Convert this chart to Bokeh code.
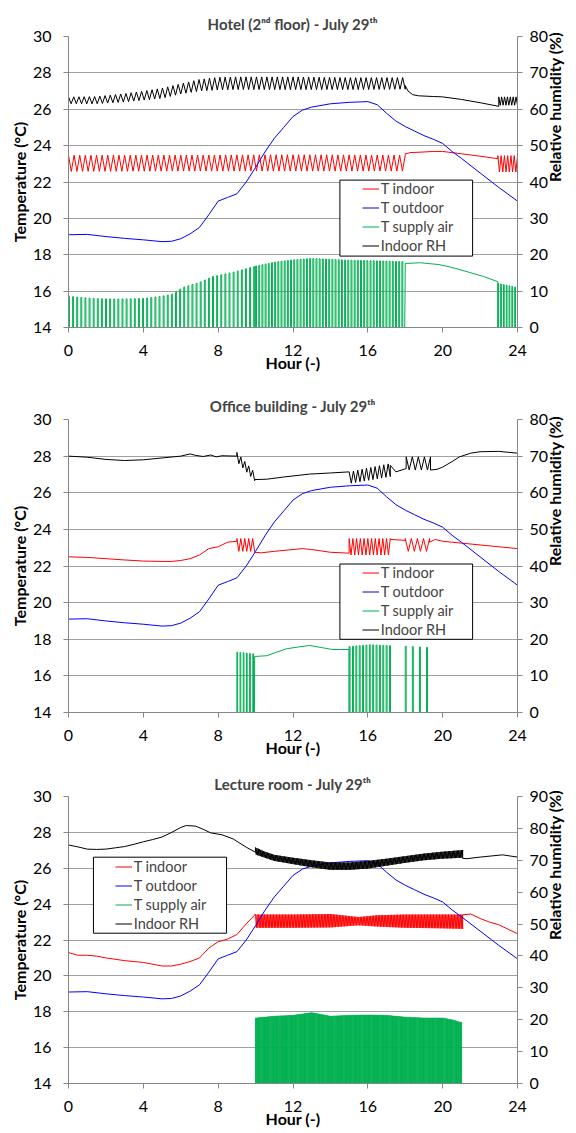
import math
import numpy as np
from bokeh.plotting import figure
from bokeh.models import Range1d, LinearAxis, FixedTicker, Legend, LegendItem, BoxAnnotation
from bokeh.layouts import column
from bokeh.embed import file_html
from bokeh.resources import INLINE

FONT = "Lato"
RED, BLUE, GREEN, BLACK = "#ff0000", "#0000ff", "#00b050", "#000000"
AXIS_GREY, GRID_GREY = "#868686", "#a0a0a0"

hour_ticks = [0, 4, 8, 12, 16, 20, 24]
temp_ticks = [14, 16, 18, 20, 22, 24, 26, 28, 30]
legend_labels = ["T indoor", "T outdoor", "T supply air", "Indoor RH"]
titles = ["Hotel (2\u207f\u1d48 floor) - July 29\u1d57\u02b0",
          "Office building - July 29\u1d57\u02b0",
          "Lecture room - July 29\u1d57\u02b0"]
rh_max = [80, 80, 90]
rh_label = "Relative humidity (%)"

# ---------------- T outdoor (same weather in every panel) ----------------
out_hours = [0, 1, 2, 3, 4, 5, 5.5, 6, 6.5, 7, 7.5, 8, 8.5, 9, 9.5, 10, 10.5, 11, 11.5, 12,
             12.5, 13, 14, 15, 16, 16.5, 17, 17.5, 18, 18.5, 19, 19.5, 20, 20.5, 21, 22, 23, 24]
out_temp = [19.1, 19.12, 19.0, 18.9, 18.82, 18.72, 18.74, 18.88, 19.15, 19.5, 20.2, 20.95, 21.15,
            21.35, 22.0, 22.8, 23.65, 24.4, 25.0, 25.6, 25.95, 26.12, 26.3, 26.38, 26.42, 26.25,
            25.78, 25.35, 25.05, 24.8, 24.55, 24.35, 24.12, 23.68, 23.3, 22.5, 21.7, 20.95]

# ---------------- Hotel ----------------
hotel_tin_knots = [0, 6, 12, 18]
hotel_tin_lo = [22.58, 22.6, 22.6, 22.6]
hotel_tin_hi = [23.47, 23.48, 23.5, 23.48]
hotel_tin_mid_hours = [18.0, 18.3, 19, 19.5, 20, 21, 22, 22.95]
hotel_tin_mid = [23.55, 23.62, 23.65, 23.68, 23.68, 23.55, 23.42, 23.28]
hotel_tin_end_lo = [22.55, 22.55]
hotel_tin_end_hi = [23.45, 23.45]

hotel_rh_knots = [0, 1.5, 3, 4, 5, 6, 7, 8, 9, 12, 15, 18]
hotel_rh_lo = [61.5, 61.5, 62.0, 62.5, 63.0, 64.2, 65.0, 65.3, 65.4, 65.4, 65.4, 65.5]
hotel_rh_hi = [63.4, 63.5, 64.3, 65.0, 65.8, 67.0, 68.2, 68.8, 68.9, 68.9, 68.7, 68.7]
hotel_rh_mid_hours = [18.0, 18.15, 18.4, 18.7, 19.5, 20, 21, 22, 23.0]
hotel_rh_mid = [66.5, 65.0, 64.0, 63.7, 63.5, 63.4, 62.7, 61.8, 60.8]
hotel_rh_end_lo = [61.1, 61.1]
hotel_rh_end_hi = [63.4, 63.4]

hotel_sup_knots = [0, 1, 2, 3, 4, 5, 5.6, 6.1, 7.0, 7.7, 8.8, 9.9, 11.0, 12, 13, 14, 15, 16, 17, 18]
hotel_sup_tops = [15.72, 15.62, 15.57, 15.57, 15.6, 15.72, 15.85, 16.2, 16.48, 16.8, 17.04, 17.35,
                  17.59, 17.72, 17.8, 17.75, 17.7, 17.68, 17.65, 17.62]
hotel_sup_mid_hours = [18.0, 18.8, 19.8, 20.5, 21.4, 22.2, 22.95]
hotel_sup_mid = [17.52, 17.56, 17.46, 17.3, 17.04, 16.8, 16.52]
hotel_sup_end_tops = [16.43, 16.2]

# ---------------- Office building ----------------
office_tin_a_hours = [0, 1, 2, 3, 4, 5, 5.5, 6, 6.5, 7, 7.5, 8, 8.5, 9.0]
office_tin_a = [22.5, 22.47, 22.4, 22.33, 22.27, 22.25, 22.25, 22.3, 22.4, 22.6, 22.95, 23.05, 23.3, 23.35]
office_tin_b_hours = [9.95, 10.3, 11, 12, 12.5, 13, 14, 15.0]
office_tin_b = [22.75, 22.72, 22.8, 22.9, 22.95, 22.9, 22.75, 22.7]
office_tin_c_hours = [17.2, 18.0]
office_tin_c = [23.45, 23.4]
office_tin_d_hours = [19.3, 19.6, 20, 21, 22, 23, 24]
office_tin_d = [23.3, 23.45, 23.35, 23.25, 23.15, 23.05, 22.95]
office_tin_cyc_lo = [22.8, 22.6, 22.8]
office_tin_cyc_hi = [23.5, 23.5, 23.5]

office_rh_a_hours = [0, 1, 2, 3, 4, 5, 6, 6.5, 6.8, 7.2, 7.6, 7.9, 8.2, 9.0]
office_rh_a = [70, 69.7, 69.1, 68.8, 69.0, 69.5, 70.0, 70.6, 70.2, 69.9, 70.3, 69.8, 70.1, 70.0]
office_rh_b_hours = [9.95, 10.6, 11.5, 12.9, 14, 15.0]
office_rh_b = [63.6, 63.7, 64.3, 65.1, 65.4, 65.7]
office_rh_c_hours = [17.2, 17.5, 18.05]
office_rh_c = [67.5, 65.7, 66.6]
office_rh_d_hours = [19.35, 19.7, 20, 20.5, 20.9, 21.5, 22, 23, 24]
office_rh_d = [66.2, 66.4, 67.0, 68.5, 69.8, 70.8, 71.2, 71.3, 70.8]
office_rh_cyc1_lo = [68.5, 63.3]
office_rh_cyc1_hi = [71.0, 65.5]
office_rh_cyc2_lo = [62.5, 64.4]
office_rh_cyc2_hi = [65.7, 68.0]
office_rh_cyc3_lo = [66.2, 66.2]
office_rh_cyc3_hi = [69.8, 69.8]

office_sup_tops1 = [17.3, 17.2]
office_sup_mid_hours = [9.95, 10.6, 11.0, 11.65, 12.3, 12.9, 13.5, 14.1, 15.0]
office_sup_mid = [17.06, 17.1, 17.25, 17.48, 17.58, 17.66, 17.55, 17.44, 17.44]
office_sup_tops2 = [17.6, 17.7, 17.65]
office_sup_tops3 = [17.62, 17.55]

# ---------------- Lecture room ----------------
lect_tin_a_hours = [0, 0.5, 1, 1.5, 2, 3, 4, 5, 5.5, 6, 6.5, 7, 7.5, 8, 8.5, 9, 9.5, 10.0]
lect_tin_a = [21.3, 21.15, 21.15, 21.1, 21.0, 20.85, 20.75, 20.55, 20.55, 20.65, 20.8, 21.0,
              21.55, 21.9, 22.05, 22.3, 22.9, 23.45]
lect_tin_knots = [10, 12, 14, 15.5, 16.5, 18, 20, 21.07]
lect_tin_lo = [22.68, 22.68, 22.7, 22.82, 22.75, 22.68, 22.65, 22.62]
lect_tin_hi = [23.42, 23.42, 23.45, 23.28, 23.38, 23.42, 23.42, 23.42]
lect_tin_b_hours = [21.07, 21.5, 22, 22.5, 23, 23.5, 24]
lect_tin_b = [23.4, 23.45, 23.2, 23.0, 22.85, 22.6, 22.35]

lect_rh_a_hours = [0, 0.5, 1, 1.5, 2, 2.5, 3, 3.5, 4, 4.5, 5, 5.5, 6, 6.3, 6.8, 7.2, 7.6, 8.2, 8.8, 9.5, 10.0]
lect_rh_a = [74.8, 74.2, 73.5, 73.4, 73.5, 73.9, 74.3, 75.0, 75.8, 76.5, 77.3, 78.7, 80.3, 80.9,
             80.7, 79.7, 78.6, 78.0, 76.7, 74.1, 72.5]
lect_rh_knots = [10.0, 10.5, 11, 12, 13, 14, 15, 16, 17, 18, 19, 20, 21.07]
lect_rh_lo = [71.8, 70.8, 69.8, 68.8, 67.8, 67.0, 67.0, 67.4, 68.3, 69.2, 70.0, 70.5, 70.8]
lect_rh_hi = [74.0, 72.7, 71.7, 70.8, 70.0, 69.3, 69.3, 69.8, 70.5, 71.3, 72.1, 72.7, 73.2]
lect_rh_b_hours = [21.07, 21.3, 22, 23.2, 24]
lect_rh_b = [70.6, 70.5, 71.0, 71.7, 71.0]

lect_sup_knots = [10, 11, 12, 13, 14, 15, 16, 17, 18, 19, 20, 20.5, 21]
lect_sup_tops = [17.65, 17.75, 17.8, 17.95, 17.75, 17.8, 17.82, 17.8, 17.7, 17.65, 17.65, 17.55, 17.4]

OFF = 0.0  # supply-air value when the unit is off (below the axis)


def zig(t0, t1, period, knots, lo, hi):
    n = max(2, int(round(2 * (t1 - t0) / period)))
    ts = np.linspace(t0, t1, n + 1)
    lo_v = np.interp(ts, knots, lo)
    hi_v = np.interp(ts, knots, hi)
    ys = np.where(np.arange(n + 1) % 2 == 0, hi_v, lo_v)
    return list(ts), list(ys)


def pulses(t0, t1, period, on, knots, tops):
    xs, ys = [], []
    for s in np.arange(t0, t1 - on * 0.5, period):
        e = s + on
        xs += [s, s, e, e]
        ys += [OFF, float(np.interp(s, knots, tops)), float(np.interp(e, knots, tops)), OFF]
    return xs, ys


def join(*parts):
    xs, ys = [], []
    for a, b in parts:
        xs += list(a)
        ys += list(b)
    return xs, ys


# ---- assemble series ----
hotel = dict(
    tin=join(zig(0, 18.0, 0.3, hotel_tin_knots, hotel_tin_lo, hotel_tin_hi),
             (hotel_tin_mid_hours, hotel_tin_mid),
             zig(22.95, 24, 0.17, [22.95, 24], hotel_tin_end_lo, hotel_tin_end_hi)),
    sup=join(pulses(0, 10, 0.22, 0.05, hotel_sup_knots, hotel_sup_tops),
             pulses(10, 18.0, 0.17, 0.05, hotel_sup_knots, hotel_sup_tops),
             (hotel_sup_mid_hours, hotel_sup_mid),
             pulses(22.95, 24, 0.15, 0.04, [22.95, 24], hotel_sup_end_tops)),
    rh=join(zig(0, 18.0, 0.28, hotel_rh_knots, hotel_rh_lo, hotel_rh_hi),
            (hotel_rh_mid_hours, hotel_rh_mid),
            zig(23.0, 24, 0.15, [23.0, 24], hotel_rh_end_lo, hotel_rh_end_hi)),
)

office = dict(
    tin=join((office_tin_a_hours, office_tin_a),
             zig(9.0, 9.95, 0.2, [9.0, 9.95], office_tin_cyc_lo[:1] * 2, office_tin_cyc_hi[:1] * 2),
             (office_tin_b_hours, office_tin_b),
             zig(15.0, 17.2, 0.2, [15.0, 17.2], office_tin_cyc_lo[1:2] * 2, office_tin_cyc_hi[1:2] * 2),
             (office_tin_c_hours, office_tin_c),
             zig(18.0, 19.3, 0.33, [18.0, 19.3], office_tin_cyc_lo[2:] * 2, office_tin_cyc_hi[2:] * 2),
             (office_tin_d_hours, office_tin_d)),
    sup=join(pulses(9.0, 9.95, 0.17, 0.04, [9.0, 9.95], office_sup_tops1),
             (office_sup_mid_hours, office_sup_mid),
             pulses(15.0, 17.2, 0.18, 0.05, [15.0, 16.1, 17.2], office_sup_tops2),
             pulses(18.0, 19.35, 0.38, 0.05, [18.0, 19.35], office_sup_tops3)),
    rh=join((office_rh_a_hours, office_rh_a),
            zig(9.0, 9.95, 0.2, [9.0, 9.95], office_rh_cyc1_lo, office_rh_cyc1_hi),
            (office_rh_b_hours, office_rh_b),
            zig(15.0, 17.2, 0.23, [15.0, 17.2], office_rh_cyc2_lo, office_rh_cyc2_hi),
            (office_rh_c_hours, office_rh_c),
            zig(18.05, 19.35, 0.33, [18.05, 19.35], office_rh_cyc3_lo, office_rh_cyc3_hi),
            (office_rh_d_hours, office_rh_d)),
)

lecture = dict(
    tin=join((lect_tin_a_hours, lect_tin_a),
             zig(10.0, 21.07, 0.08, lect_tin_knots, lect_tin_lo, lect_tin_hi),
             (lect_tin_b_hours, lect_tin_b)),
    sup=pulses(10.0, 21.0, 0.06, 0.035, lect_sup_knots, lect_sup_tops),
    rh=join((lect_rh_a_hours, lect_rh_a),
            zig(10.0, 21.07, 0.07, lect_rh_knots, lect_rh_lo, lect_rh_hi),
            (lect_rh_b_hours, lect_rh_b)),
)

FIG_W = 576
B_LEFT, B_RIGHT = 68, 58
FRAME_W = FIG_W - B_LEFT - B_RIGHT


def style_axis(ax, label_standoff, title_standoff):
    ax.axis_line_color = AXIS_GREY
    ax.major_tick_line_color = AXIS_GREY
    ax.minor_tick_line_color = None
    ax.major_tick_in = 0
    ax.major_tick_out = 5
    ax.major_label_text_font = FONT
    ax.major_label_text_font_size = "16px"
    ax.major_label_text_color = "black"
    ax.major_label_standoff = label_standoff
    ax.axis_label_text_font = FONT
    ax.axis_label_text_font_size = "16px"
    ax.axis_label_text_font_style = "bold"
    ax.axis_label_text_color = "black"
    ax.axis_label_standoff = title_standoff


def panel(title, rmax, series, b_top, frame_h, b_bottom, title_standoff, box_px, legend_px):
    p = figure(width=FIG_W, height=b_top + frame_h + b_bottom,
               x_range=Range1d(0, 24), y_range=Range1d(14, 30),
               output_backend="svg", toolbar_location=None,
               min_border_left=B_LEFT, min_border_right=B_RIGHT,
               min_border_top=b_top, min_border_bottom=b_bottom, title=title)
    p.extra_y_ranges = {"rh": Range1d(0, rmax)}
    p.outline_line_color = None
    p.title.align = "center"
    p.title.text_font = FONT
    p.title.text_font_size = "15px"
    p.title.text_font_style = "bold"
    p.title.standoff = title_standoff
    p.xgrid.visible = False
    p.ygrid.ticker = FixedTicker(ticks=temp_ticks)
    p.ygrid.grid_line_color = GRID_GREY

    xa = p.xaxis[0]
    xa.ticker = FixedTicker(ticks=hour_ticks)
    xa.axis_label = "Hour (-)"
    style_axis(xa, 12, -6)
    ya = p.yaxis[0]
    ya.ticker = FixedTicker(ticks=temp_ticks)
    ya.axis_label = "Temperature (\u00b0C)"
    style_axis(ya, 12, 1)
    ra = LinearAxis(y_range_name="rh", ticker=FixedTicker(ticks=list(range(0, rmax + 1, 10))),
                    axis_label=rh_label)
    style_axis(ra, 7, 3)
    ra.axis_label_orientation = math.pi / 2   # reads bottom-to-top as in the original
    p.add_layout(ra, "right")

    r_in = p.line(series["tin"][0], series["tin"][1], line_color=RED, line_width=1)
    r_out = p.line(out_hours, out_temp, line_color=BLUE, line_width=1)
    r_sup = p.line(series["sup"][0], series["sup"][1], line_color=GREEN, line_width=1)
    r_rh = p.line(series["rh"][0], series["rh"][1], line_color=BLACK, line_width=1,
                  y_range_name="rh")

    # legend frame (pixel offsets from the frame's top-left converted to data units)
    bl, br, bt, bb = box_px
    sx = 24.0 / FRAME_W
    sy = 16.0 / frame_h
    box = BoxAnnotation(left=bl * sx, right=br * sx, top=30 - bt * sy, bottom=30 - bb * sy,
                        fill_color="white", fill_alpha=1.0, line_color="black",
                        line_alpha=1.0, line_width=1)
    p.add_layout(box)
    lx, ltop = legend_px
    items = [LegendItem(label=lab, renderers=[r]) for lab, r in
             zip(legend_labels, [r_in, r_out, r_sup, r_rh])]
    leg = Legend(items=items, location=(lx, frame_h - ltop - 74),
                 border_line_color=None, background_fill_alpha=0.0,
                 padding=0, margin=0, spacing=2, glyph_width=17, glyph_height=17,
                 label_height=17, label_standoff=2,
                 label_text_font=FONT, label_text_font_size="14.5px")
    p.add_layout(leg)
    return p


p1 = panel(titles[0], rh_max[0], hotel, 36, 291, 55, 8, (272, 405, 143.6, 219.6), (293.7, 144.4))
p2 = panel(titles[1], rh_max[1], office, 37, 293, 55, 10, (272, 405, 144.5, 219.8), (293.7, 145.3))
p3 = panel(titles[2], rh_max[2], lecture, 29, 287, 50, 7, (25, 158.4, 60.7, 136.7), (46.7, 61.5))

layout = column(p1, p2, p3, spacing=0)
open("out.html", "w").write(file_html(layout, INLINE))
